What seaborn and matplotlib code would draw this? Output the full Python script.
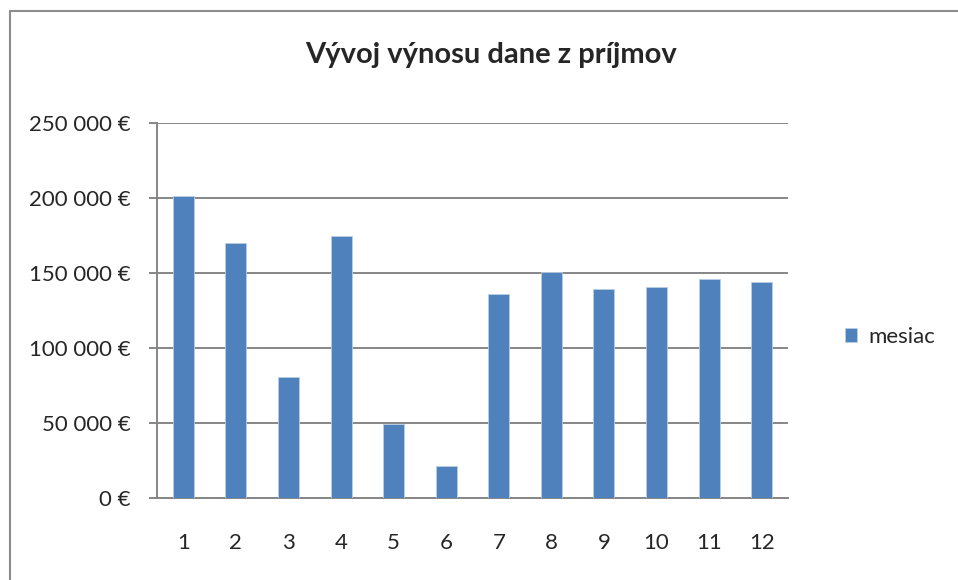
import numpy as np
import pandas as pd
import matplotlib
matplotlib.use("Agg")
import matplotlib.pyplot as plt
import seaborn as sns
from matplotlib.patches import Rectangle, Patch

# data
months = ["1", "2", "3", "4", "5", "6", "7", "8", "9", "10", "11", "12"]
vynos = [201500, 170000, 80500, 174500, 49300, 21100,
         135700, 151000, 139500, 140800, 146300, 143900]
y_ticks = [0, 50000, 100000, 150000, 200000, 250000]
y_labels = ["0 €", "50 000 €", "100 000 €", "150 000 €", "200 000 €", "250 000 €"]
series_name = "mesiac"
title = "Vývoj výnosu dane z príjmov"

df = pd.DataFrame({"mesiac": months, "vynos": vynos})

sns.set_style("white")
plt.rcParams["font.family"] = ["Lato", "DejaVu Sans"]

W, H = 958, 580
fig = plt.figure(figsize=(W / 100, H / 100), dpi=100)
ax = fig.add_axes([157 / W, (H - 498) / H, (788 - 157) / W, (498 - 123) / H])

grid_col = "#868686"
bar_col = "#4F81BD"

sns.barplot(data=df, x="mesiac", y="vynos", color=bar_col, width=0.4,
            saturation=1, edgecolor="#B9CDE5", linewidth=0.6, ax=ax, zorder=3)

ax.set_xlim(-0.5, len(months) - 0.5)
ax.set_ylim(0, 250000)
ax.set_yticks(y_ticks)
ax.set_yticklabels(y_labels)
ax.yaxis.grid(True, color=grid_col, linewidth=1.4)
ax.set_axisbelow(True)
ax.set_xlabel("")
ax.set_ylabel("")

# tick marks between categories
ax.set_xticks(np.arange(-0.5, len(months)), minor=True)
ax.tick_params(axis="x", which="minor", length=6, width=1.4, color=grid_col, direction="out")
ax.tick_params(axis="x", which="major", length=0, pad=25, labelsize=16)
ax.tick_params(axis="y", which="major", length=6, width=1.4, color=grid_col,
               direction="out", pad=13, labelsize=16, left=True)

for side in ["top", "right"]:
    ax.spines[side].set_visible(False)
for side in ["left", "bottom"]:
    ax.spines[side].set_color(grid_col)
    ax.spines[side].set_linewidth(1.4)

fig.text(491 / W, 1 - 55 / H, title, ha="center", va="center",
         fontsize=21, fontweight="bold")

handle = Patch(facecolor=bar_col, edgecolor="#B9CDE5", linewidth=0.6)
fig.legend([handle], [series_name], loc="center left",
           bbox_to_anchor=(845 / W, 1 - 337 / H), frameon=False,
           handlelength=0.55, handleheight=0.55, handletextpad=0.5,
           fontsize=16, borderaxespad=0, borderpad=0)

# outer chart border (only top/left visible in the reference)
fig.patches.append(Rectangle((9.5 / W, 0 - 0.1), 1.2, 1 - 10.5 / H + 0.1,
                             transform=fig.transFigure, fill=False,
                             edgecolor="#8c8c8c", linewidth=1.5))

fig.savefig("out.png", dpi=100)
